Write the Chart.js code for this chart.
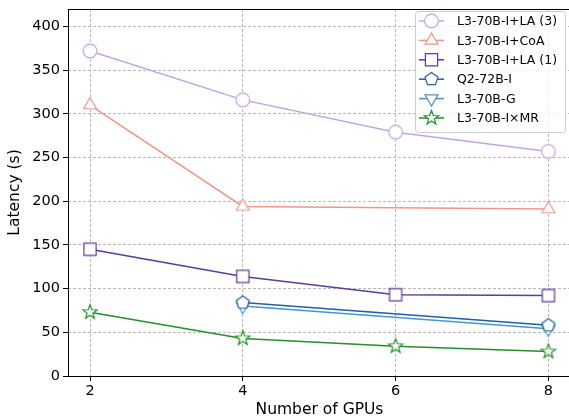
<!DOCTYPE html>
<html>
<head>
<meta charset="UTF-8">
<title>Latency vs GPUs</title>
<script src="https://cdn.jsdelivr.net/npm/chart.js@4.4.1/dist/chart.umd.min.js"></script>
<style>
  html, body { margin: 0; padding: 0; background: #fff; }
  .wrap { width: 569px; height: 419px; position: relative; }
</style>
</head>
<body>
<div class="wrap"><canvas id="latencyChart"></canvas></div>
<script>
// Data
const gpus = [2, 4, 6, 8];
const yTicks = [0, 50, 100, 150, 200, 250, 300, 350, 400];
const la3 = [372, 316, 279, 257];
const coa = [310, 194, null, 191];
const la1 = [145, 114, 93, 92];
const q2 = [null, 84, null, 58];
const g70 = [null, 80, null, 54];
const mr = [73, 43, 34, 28];

const seriesNames = ['L3-70B-I+LA (3)', 'L3-70B-I+CoA', 'L3-70B-I+LA (1)', 'Q2-72B-I', 'L3-70B-G', 'L3-70B-I\u00d7MR'];
const seriesValues = [la3, coa, la1, q2, g70, mr];
const seriesColors = ['#c3a3e3', '#f0958a', '#5d3a9b', '#1f5fa8', '#4596cf', '#23902a'];
const seriesMarkers = ['circle', 'triangle', 'square', 'pentagon', 'triangleDown', 'star'];

const FONT = "'DejaVu Sans', sans-serif";

// marker shapes
function markerPath(c, shape, x, y, r) {
    c.beginPath();
    if (shape === 'circle') {
        c.arc(x, y, r, 0, Math.PI * 2);
    } else if (shape === 'square') {
        const s = r * 0.9;
        c.rect(x - s, y - s, s * 2, s * 2);
    } else if (shape === 'triangle' || shape === 'triangleDown') {
        const d = shape === 'triangle' ? -1 : 1;
        c.moveTo(x, y + d * r * 1.1);
        c.lineTo(x + r * 0.95, y - d * r * 0.55);
        c.lineTo(x - r * 0.95, y - d * r * 0.55);
        c.closePath();
    } else if (shape === 'pentagon') {
        for (let i = 0; i < 5; i++) {
            const a = -Math.PI / 2 + i * 2 * Math.PI / 5;
            const px = x + r * Math.cos(a), py = y + r * Math.sin(a);
            if (i === 0) c.moveTo(px, py); else c.lineTo(px, py);
        }
        c.closePath();
    } else if (shape === 'star') {
        for (let i = 0; i < 10; i++) {
            const rr = i % 2 === 0 ? r * 1.1 : r * 0.45;
            const a = -Math.PI / 2 + i * Math.PI / 5;
            const px = x + rr * Math.cos(a), py = y + rr * Math.sin(a);
            if (i === 0) c.moveTo(px, py); else c.lineTo(px, py);
        }
        c.closePath();
    }
}

function drawMarker(c, shape, x, y, r, color) {
    c.save();
    markerPath(c, shape, x, y, r);
    c.fillStyle = '#ffffff';
    c.fill();
    c.lineWidth = 1.2;
    c.strokeStyle = color;
    c.stroke();
    c.restore();
}

function markerImage(shape, color) {
    const size = 18;
    const cv = document.createElement('canvas');
    cv.width = size; cv.height = size;
    drawMarker(cv.getContext('2d'), shape, size / 2, size / 2, 6.8, color);
    return cv;
}

const datasets = seriesNames.map((name, i) => ({
    label: name,
    data: gpus.map((g, j) => ({ x: g, y: seriesValues[i][j] })).filter(p => p.y !== null),
    borderColor: seriesColors[i],
    borderWidth: 1.5,
    pointStyle: markerImage(seriesMarkers[i], seriesColors[i]),
    pointRadius: 7,
    pointHoverRadius: 7,
    fill: false,
    tension: 0
}));

// plot area runs slightly past the right edge of the canvas, like the original
const stretchPlugin = {
    id: 'stretch',
    afterLayout(chart) {
        const right = 571;
        chart.chartArea.right = right;
        chart.chartArea.width = right - chart.chartArea.left;
        const xs = chart.scales.x;
        xs.right = right;
        xs.width = right - xs.left;
        xs.configure();
    }
};

// frame around plot + legend box inside the axes
const framePlugin = {
    id: 'frame',
    afterDraw(chart) {
        const c = chart.ctx, a = chart.chartArea;
        c.save();
        c.strokeStyle = '#000';
        c.lineWidth = 1;
        c.strokeRect(a.left + 0.5, a.top + 0.5, a.right - a.left, a.bottom - a.top);

        // legend
        const bx = 415, by = 11, bw = 150, bh = 121;
        c.fillStyle = 'rgba(255,255,255,0.8)';
        c.strokeStyle = '#cccccc';
        c.beginPath();
        c.roundRect(bx + 0.5, by + 0.5, bw, bh, 3);
        c.fill();
        c.stroke();
        c.font = '12.5px ' + FONT;
        c.textBaseline = 'middle';
        seriesNames.forEach((name, i) => {
            const y = by + 10 + i * 19.4;
            c.strokeStyle = seriesColors[i];
            c.lineWidth = 1.5;
            c.beginPath();
            c.moveTo(bx + 4, y);
            c.lineTo(bx + 29, y);
            c.stroke();
            drawMarker(c, seriesMarkers[i], bx + 16.5, y, 6.8, seriesColors[i]);
            c.fillStyle = '#000';
            c.fillText(name, bx + 42, y + 1);
        });
        c.restore();
    }
};

const ctx = document.getElementById('latencyChart').getContext('2d');
new Chart(ctx, {
    type: 'line',
    data: { datasets: datasets },
    options: {
        responsive: true,
        maintainAspectRatio: false,
        animation: false,
        layout: { padding: { top: 9, right: 0, left: 0, bottom: 0 } },
        plugins: {
            legend: { display: false },
            tooltip: { enabled: false }
        },
        scales: {
            x: {
                type: 'linear',
                min: 1.712,
                max: 8.296,
                afterBuildTicks: s => { s.ticks = gpus.map(v => ({ value: v })); },
                afterFit: s => { s.height = 43; },
                ticks: { color: '#000', font: { family: FONT, size: 14.5 }, padding: 2, maxRotation: 0 },
                grid: { color: '#b8b8b8', tickColor: '#000', tickLength: 5 },
                border: { display: false, dash: [3, 2] },
                title: { display: true, text: 'Number of GPUs', color: '#000', font: { family: FONT, size: 15.5 }, padding: { top: 1, bottom: 0 } }
            },
            y: {
                min: 0,
                max: 420,
                afterBuildTicks: s => { s.ticks = yTicks.map(v => ({ value: v })); },
                afterFit: s => { s.width = 68; s.paddingTop = 0; s.paddingBottom = 0; },
                ticks: { color: '#000', font: { family: FONT, size: 14.5 }, padding: 3 },
                grid: { color: '#b8b8b8', tickColor: '#000', tickLength: 5 },
                border: { display: false, dash: [3, 2] },
                title: { display: true, text: 'Latency (s)', color: '#000', font: { family: FONT, size: 15.5 }, padding: { top: 6, bottom: 2 } }
            }
        }
    },
    plugins: [stretchPlugin, framePlugin]
});
</script>
</body>
</html>
